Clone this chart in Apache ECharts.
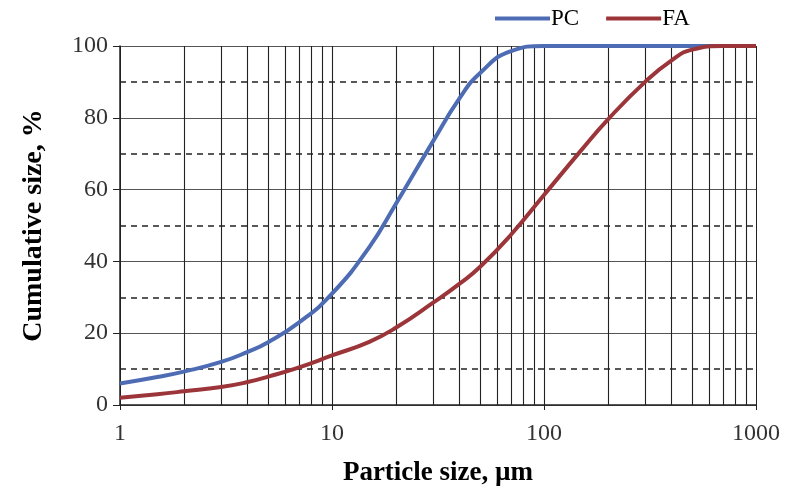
<!DOCTYPE html>
<html>
<head>
<meta charset="UTF-8">
<title>Particle size distribution</title>
<script type="text/javascript" src="https://cdn.jsdelivr.net/npm/echarts@6/dist/echarts.min.js"></script>
<style type="text/css">
	body{ margin:0; background:#fff; }
	#main{ width:788px; height:491px; }
</style>
</head>
<body>
<div id="main"></div>
<script type="text/javascript">
	// particle size, um
	var sizes = [1, 1.5, 2, 3, 4, 5, 7, 10, 15, 20, 30, 40, 50, 70, 100, 150, 200, 300, 400, 500, 700, 1000];
	// cumulative size, %
	var pcValues = [6, 7.8, 9.3, 12, 14.8, 17.5, 23, 31, 44, 56, 73.5, 85.5, 92.5, 98.6, 100, 100, 100, 100, 100, 100, 100, 100];
	var faValues = [2, 3, 3.8, 5, 6.4, 7.9, 10.5, 13.8, 17.6, 21.5, 28.5, 33.8, 38.5, 47.5, 58.5, 71, 79.5, 90, 96, 99, 100, 100];
	// vertical grid lines of the log axis
	var gridX = [2, 3, 4, 5, 6, 7, 8, 9, 10, 20, 30, 40, 50, 60, 70, 80, 90, 100, 200, 300, 400, 500, 600, 700, 800, 900];
	// dashed horizontal lines
	var dashY = [10, 30, 50, 70, 90];

	function pairs(xs, ys){
		var out = [];
		for(var i = 0;i<xs.length;i++){
			out.push([xs[i], ys[i]]);
		}
		return out;
	}

	var vLines = [];
	for(var i = 0;i<gridX.length;i++){
		vLines.push([{coord:[gridX[i], 0]}, {coord:[gridX[i], 100]}]);
	}
	var hLines = [];
	for(var j = 0;j<dashY.length;j++){
		hLines.push([{coord:[1, dashY[j]]}, {coord:[1000, dashY[j]]}]);
	}

	var serif = 'Liberation Serif';
	var myChart = echarts.init(document.getElementById('main'));

	var option = {
		animation: false,
		textStyle: { fontFamily: serif, color: '#000' },
		grid: { left: 120, right: 32, top: 46, bottom: 86, outerBoundsMode: 'none', containLabel: false },
		legend: {
			left: 490,
			top: 2,
			icon: 'rect',
			itemWidth: 55,
			itemHeight: 4,
			itemGap: 27,
			textStyle: { fontFamily: serif, fontSize: 23, color: '#000', padding: [0, 0, 0, -4] },
			data: ['PC', 'FA']
		},
		xAxis: {
			type: 'log',
			logBase: 10,
			min: 1,
			max: 1000,
			name: 'Particle size, µm',
			nameLocation: 'middle',
			nameGap: 55,
			nameTextStyle: { fontFamily: serif, fontSize: 27, fontWeight: 'bold', color: '#000' },
			axisLine: { lineStyle: { color: '#222', width: 1.5 } },
			axisTick: { show: true, length: 5, lineStyle: { color: '#222' } },
			axisLabel: {
				fontFamily: serif, fontSize: 24, color: '#333', margin: 17,
				formatter: function(v){ return String(Math.round(v)); }
			},
			splitLine: { show: true, lineStyle: { color: '#222', width: 1 } }
		},
		yAxis: {
			type: 'value',
			min: 0,
			max: 100,
			interval: 20,
			name: 'Cumulative size, %',
			nameLocation: 'middle',
			nameGap: 72,
			nameTextStyle: { fontFamily: serif, fontSize: 28, fontWeight: 'bold', color: '#000' },
			axisLine: { show: true, lineStyle: { color: '#222', width: 1.5 } },
			axisTick: { show: true, length: 7, lineStyle: { color: '#222' } },
			axisLabel: { fontFamily: serif, fontSize: 24, color: '#333', margin: 12 },
			splitLine: { show: true, lineStyle: { color: '#555', width: 1.2 } }
		},
		series: [
			{
				name: 'grid',
				type: 'line',
				data: [],
				silent: true,
				markLine: {
					silent: true,
					symbol: 'none',
					label: { show: false },
					lineStyle: { color: '#222', width: 1.1, type: 'solid' },
					data: vLines
				}
			},
			{
				name: 'dash',
				type: 'line',
				data: [],
				silent: true,
				markLine: {
					silent: true,
					symbol: 'none',
					label: { show: false },
					lineStyle: { color: '#222', width: 1.5, type: [6, 5] },
					data: hLines
				}
			},
			{
				name: 'PC',
				type: 'line',
				data: pairs(sizes, pcValues),
				smooth: 0.5,
				showSymbol: false,
				z: 5,
				itemStyle: { color: '#4e6cb4' },
				lineStyle: { color: '#4e6cb4', width: 4 }
			},
			{
				name: 'FA',
				type: 'line',
				data: pairs(sizes, faValues),
				smooth: 0.5,
				showSymbol: false,
				z: 5,
				itemStyle: { color: '#9b3539' },
				lineStyle: { color: '#9b3539', width: 4 }
			}
		]
	};

	myChart.setOption(option);
</script>
</body>
</html>
